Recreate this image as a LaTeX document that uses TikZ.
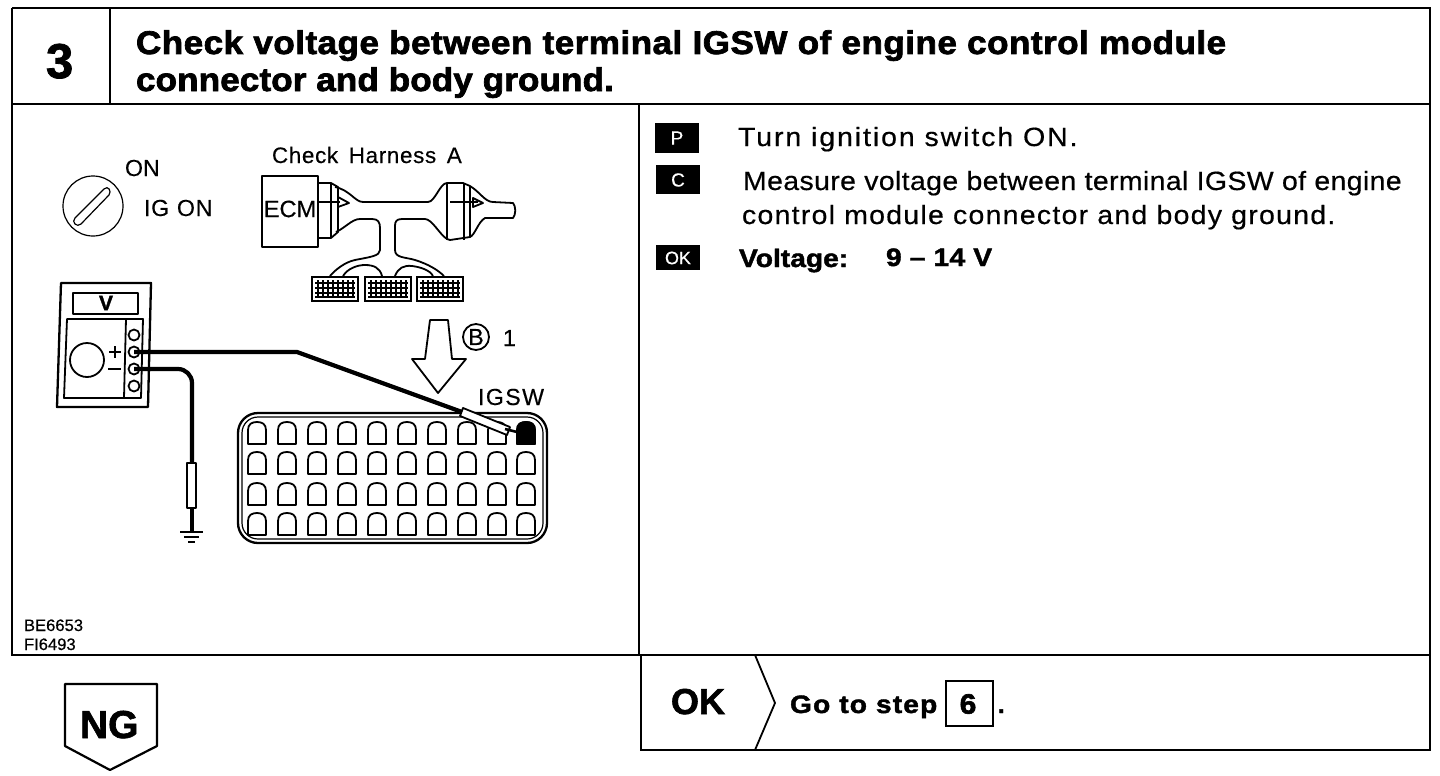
\documentclass[tikz,border=0pt]{standalone}
\usepackage{fontspec}
\setmainfont[FakeBold=0.35]{Liberation Sans}
\newfontfamily\hvb[FakeBold=1.6]{Liberation Sans Bold}
\newfontfamily\hvt[FakeBold=2.2,FakeStretch=1.07]{Liberation Sans Bold}
\newfontfamily\hvs[FakeBold=1.6,FakeStretch=1.12]{Liberation Sans Bold}
\newfontfamily\bdy[FakeBold=0.45,FakeStretch=1.08]{Liberation Sans}
\newcommand{\lsp}[1]{\addfontfeature{LetterSpace=#1}}
\usetikzlibrary{calc}
\tikzset{
  x=0.5pt,y=-0.5pt,
  frame/.style={line width=1.25pt,black},
  thin line/.style={line width=0.6pt,black},
  med/.style={line width=0.9pt,black,line join=round},
  wire/.style={line width=2.1pt,black,line join=round},
  txt/.style={anchor=base west,inner sep=0pt,outer sep=0pt,text=black},
  badge/.style={fill=black,draw=none},
  badgetxt/.style={anchor=center,inner sep=0pt,text=white},
}
\newcommand{\socket}[3][white]{\draw[med,fill=#1] (#2-9,#3+22) -- (#2-9,#3+8) .. controls (#2-9,#3+2) and (#2-5,#3) .. (#2,#3) .. controls (#2+5,#3) and (#2+9,#3+2) .. (#2+9,#3+8) -- (#2+9,#3+22) -- cycle;}
\newcommand{\blockconn}[1]{%
  \draw[line width=1.3pt,fill=white] (#1,277) rectangle (#1+46,301);
  \foreach \yy in {283,288,293,297} \draw[line width=0.9pt] (#1+3,\yy) -- (#1+43,\yy);
  \foreach \xx in {6,11,16,21,26,31,36,41} \draw[line width=0.7pt] (#1+\xx,280) -- (#1+\xx,298);
}
\begin{document}
\begin{tikzpicture}
\useasboundingbox (0,0) rectangle (1440,776);
\fill[white] (0,0) rectangle (1440,776);
% frame
\draw[frame] (12,8) -- (1430,8) -- (1430,750) -- (641,750) -- (641,655);
\draw[frame] (12,8) -- (12,655) -- (1430,655);
\draw[frame] (12,104) -- (1430,104);
\draw[frame] (110,8) -- (110,104);
\draw[frame] (639,104) -- (639,655);
\draw[frame,line width=0.9pt] (755,655) -- (775,703) -- (755,750);
% heading
\node[txt] (num) at (46,78) {\fontsize{24.5}{24}\selectfont\hvb 3};
\node[txt] (t1) at (136,54) {\fontsize{16.4}{18}\selectfont\hvt\lsp{1.4} Check voltage between terminal IGSW of engine control module};
\node[txt] (t2) at (136,91) {\fontsize{16.4}{18}\selectfont\hvt\lsp{0.3} connector and body ground.};
% ignition switch
\draw[thin line] (93,206) circle[radius=30];
\draw[thin line] (75,218) -- (104,189) .. controls (108,185) and (112,191) .. (109,195) -- (81,224) .. controls (77,228) and (71,222) .. (75,218) -- cycle;
\node[txt] (on) at (125,176) {\fontsize{11.6}{12}\selectfont ON};
\node[txt] (igon) at (144,216) {\fontsize{11.6}{12}\selectfont\lsp{3} IG\,\,ON};
% harness
\node[txt] (chk) at (272,163) {\fontsize{11.2}{12}\selectfont\lsp{3} Check\, Harness\, A};
\draw[med,line width=1.1pt] (262,176) rectangle (318,247);
\node[anchor=center,inner sep=0pt] (ecm) at (290,209) {\fontsize{11.8}{12}\selectfont ECM};
\draw[med] (319,183) -- (331,183) -- (331,238) -- (319,238);
\draw[med] (331,183) -- (338,187) -- (338,232) -- (331,238);
\draw[med] (319,202) -- (340,202);
\draw[med] (335,187) .. controls (350,190) and (355,202) .. (363,202) -- (428,202) .. controls (435,202) and (440,183) .. (447,183) -- (463,183) -- (470,186) .. controls (480,192) and (485,202) .. (493,202) -- (513,203) .. controls (516,206) and (516,215) .. (513,218) -- (485,218) .. controls (478,222) and (475,235) .. (470,237) -- (450,240) -- (447,239) .. controls (440,235) and (432,219) .. (425,219) -- (402,219) .. controls (396,219) and (395,222) .. (395,226) -- (395,250) .. controls (395,258) and (405,257) .. (415,260) .. controls (428,264) and (438,270) .. (444,276);
\draw[med] (336,232) .. controls (345,228) and (352,219) .. (360,219) -- (372,219) .. controls (378,219) and (380,222) .. (380,228) -- (380,250) .. controls (380,256) and (370,257) .. (355,260) .. controls (345,262) and (335,270) .. (330,276);
\draw[med] (343,276) .. controls (348,268) and (358,265) .. (365,265) .. controls (374,265) and (380,268) .. (382,276);
\draw[med] (395,276) .. controls (398,268) and (404,265) .. (412,266) .. controls (420,267) and (430,270) .. (433,276);
\draw[med] (447,183) -- (447,240);
\draw[med] (464,183) -- (464,240);
\draw[med] (470,186) -- (470,237);
\draw[med] (450,202) -- (478,202);
\draw[med] (338,197) -- (349,203) -- (338,207);
\draw[med] (473,198) -- (483,203) -- (473,207) -- cycle;
\blockconn{312}\blockconn{365}\blockconn{417}
% block arrow
\draw[med] (430,320) -- (448,320) -- (452,359) -- (466,359) -- (438,393) -- (412,359) -- (425,359) -- cycle;
\draw[med] (476,337) circle[radius=13];
\node[anchor=center,inner sep=0pt] (b) at (476,337) {\fontsize{11.6}{12}\selectfont B};
\node[txt] (one) at (503,346) {\fontsize{11.6}{12}\selectfont 1};
\node[txt] (igsw) at (478,405) {\fontsize{11.6}{12}\selectfont\lsp{6} IGSW};
% meter
\draw[line width=1.15pt,line join=round] (61,283) -- (151,283) -- (148,407) -- (57,407) -- cycle;
\draw[med,line width=1pt] (73,293) rectangle (138,314);
\node[anchor=center,inner sep=0pt] (v) at (106,303) {\fontsize{10.5}{12}\selectfont\hvb V};
\draw[med] (67,319) -- (143,319) -- (141,398) -- (64,398) -- cycle;
\draw[med] (126,319) -- (124,398);
\draw[med] (87,360) circle[radius=17];
\draw[line width=1.2pt] (109,352) -- (121,352) (115,346) -- (115,358);
\draw[line width=1.2pt] (108,369) -- (121,369);
\foreach \n/\yy in {a/335,b/352,c/369,d/386}{
  \draw[med,fill=white] (134,\yy) circle[radius=5.5];
  \coordinate (term\n) at (134,\yy);
}
% connector body
\draw[line width=1.15pt,rounded corners=10pt] (238,413) rectangle (547,543);
\draw[line width=0.6pt,rounded corners=8pt] (242,417) rectangle (543,539);
\foreach \cy in {422,452,483,513}
  \foreach \cx in {257,287,317,347,377,407,437,467,497,526}
    {\socket{\cx}{\cy}}
\socket[black]{526}{422}
% probes and wires
\coordinate (plusbend) at (297,352);
\coordinate (probeA) at (462,412);
\coordinate (pin) at (525,434);
\draw[wire] (termb) -- (plusbend) -- (probeA);
\draw[med,fill=white] (463,408) -- (510,427) -- (507,435) -- (460,416) -- cycle;
\draw[line width=1.3pt] (505,429) -- (pin);
\coordinate (minusbend) at (192,369);
\coordinate (probeB) at (192,463);
\draw[wire,rounded corners=7pt] (termc) -- (minusbend) -- (probeB);
\draw[med,fill=white] (187,463) rectangle (196,508);
\coordinate (gnd) at (192,532);
\draw[line width=2.4pt] (192,508) -- (gnd);
\draw[line width=0.9pt] (180,532) -- (203,532) (184,537) -- (199,537) (188,542) -- (195,542);
% footer ids
\node[txt] (id1) at (24,631) {\fontsize{8.3}{8}\selectfont BE6653};
\node[txt] (id2) at (24,650) {\fontsize{8.3}{8}\selectfont FI6493};
% right column
\fill[badge] (655,123) rectangle (699,153);
\node[badgetxt] (pb) at (677,138) {\fontsize{9.5}{10}\selectfont P};
\fill[badge] (656,165) rectangle (700,194);
\node[badgetxt] (cb) at (678,180) {\fontsize{9.5}{10}\selectfont C};
\fill[badge] (656,245) rectangle (700,270);
\node[badgetxt] (okb) at (678,258) {\fontsize{9}{10}\selectfont OK};
\node[txt] (s1) at (738,146) {\fontsize{13.2}{15}\selectfont\bdy\lsp{7.2} Turn ignition switch ON.};
\node[txt] (s2) at (743,190) {\fontsize{13.2}{15}\selectfont\bdy\lsp{1.3} Measure voltage between terminal IGSW of engine};
\node[txt] (s3) at (742,224) {\fontsize{13.2}{15}\selectfont\bdy\lsp{4.7} control module connector and body ground.};
\node[txt] (s4) at (739,267) {\fontsize{12.6}{15}\selectfont\hvs Voltage:};
\node[txt] (s5) at (886,266) {\fontsize{12.6}{15}\selectfont\hvs\lsp{1} 9 – 14 V};
% bottom
\node[txt] (ok) at (671,714) {\fontsize{18}{18}\selectfont\hvb OK};
\node[txt] (go) at (790,713) {\fontsize{12.6}{14}\selectfont\hvs\lsp{4.4} Go to step};
\draw[line width=1.1pt] (946,681) rectangle (993,726);
\node[anchor=center,inner sep=0pt] (six) at (968,704) {\fontsize{14}{14}\selectfont\hvt 6};
\node[txt] (dot) at (998,713) {\fontsize{12}{14}\selectfont\hvb .};
\draw[line width=1.1pt,line join=round] (65,684) -- (157,684) -- (157,746) -- (110,770) -- (65,746) -- cycle;
\node[txt] (ng) at (80,738) {\fontsize{19.5}{18}\selectfont\hvb NG};
\end{tikzpicture}
\end{document}
